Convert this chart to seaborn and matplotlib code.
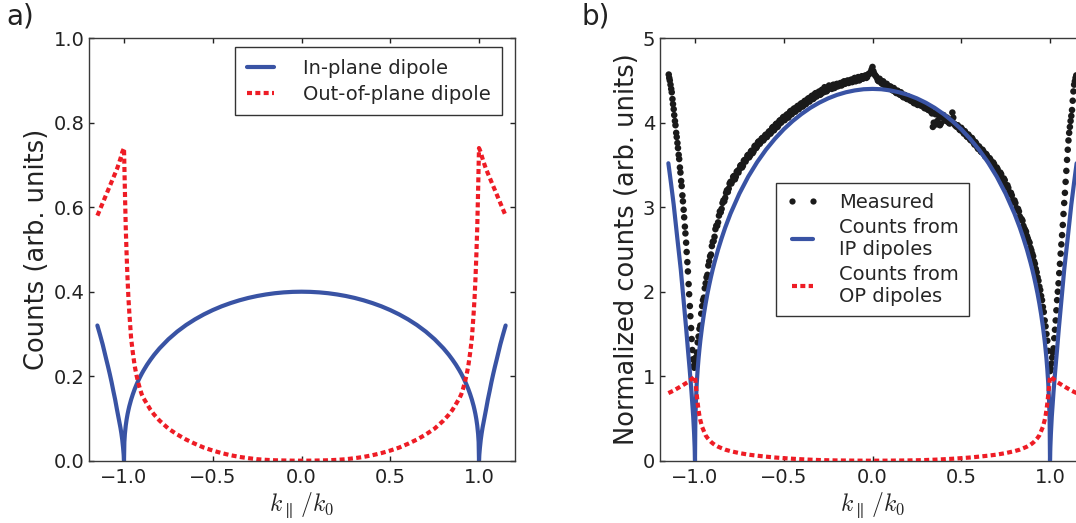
import matplotlib
matplotlib.use("Agg")
import matplotlib.pyplot as plt
import seaborn as sns
from matplotlib.lines import Line2D

# ---------------- data ----------------
k_curve = [-1.15, -1.135, -1.12, -1.10, -1.09, -1.08, -1.07, -1.06, -1.05, -1.04,
           -1.03, -1.02, -1.015, -1.01, -1.005, -1.002, -1.0,
           -0.998, -0.995, -0.99, -0.985, -0.98, -0.975, -0.97, -0.96, -0.95, -0.94,
           -0.93, -0.92, -0.91, -0.90, -0.89, -0.87, -0.85, -0.83, -0.80, -0.75,
           -0.70, -0.65, -0.60, -0.55, -0.50, -0.45, -0.40, -0.35, -0.30, -0.25,
           -0.20, -0.15, -0.10, -0.05,
           0.0,
           0.05, 0.10, 0.15, 0.20, 0.25, 0.30, 0.35, 0.40, 0.45, 0.50,
           0.55, 0.60, 0.65, 0.70, 0.75, 0.80, 0.83, 0.85, 0.87, 0.89,
           0.90, 0.91, 0.92, 0.93, 0.94, 0.95, 0.96, 0.97, 0.975, 0.98,
           0.985, 0.99, 0.995, 0.998,
           1.0, 1.002, 1.005, 1.01, 1.015, 1.02, 1.03, 1.04, 1.05, 1.06,
           1.07, 1.08, 1.09, 1.10, 1.12, 1.135, 1.15]

# panel a) in-plane dipole
ip_a = [0.32, 0.298, 0.275, 0.24, 0.223, 0.205, 0.186, 0.165, 0.145, 0.122,
        0.10, 0.078, 0.065, 0.05, 0.03, 0.015, 0.0,
        0.0440, 0.0634, 0.0837, 0.0982, 0.1100, 0.1200, 0.1290, 0.1444, 0.1575, 0.1692,
        0.1796, 0.1890, 0.1978, 0.2059, 0.2134, 0.2272, 0.2394, 0.2507, 0.2658, 0.2874,
        0.3056, 0.3212, 0.3346, 0.3463, 0.3565, 0.3654, 0.3730, 0.3796, 0.3852, 0.3898,
        0.3935, 0.3964, 0.3984, 0.3996,
        0.4000,
        0.3996, 0.3984, 0.3964, 0.3935, 0.3898, 0.3852, 0.3796, 0.3730, 0.3654, 0.3565,
        0.3463, 0.3346, 0.3212, 0.3056, 0.2874, 0.2658, 0.2507, 0.2394, 0.2272, 0.2134,
        0.2059, 0.1978, 0.1890, 0.1796, 0.1692, 0.1575, 0.1444, 0.1290, 0.1200, 0.1100,
        0.0982, 0.0837, 0.0634, 0.0440,
        0.0, 0.015, 0.03, 0.05, 0.065, 0.078, 0.10, 0.122, 0.145, 0.165,
        0.186, 0.205, 0.223, 0.24, 0.275, 0.298, 0.32]

# panel a) out-of-plane dipole
op_a = [0.58, 0.595, 0.61, 0.63, 0.64, 0.65, 0.66, 0.67, 0.68, 0.69,
        0.702, 0.715, 0.722, 0.73, 0.735, 0.738, 0.74,
        0.70, 0.64, 0.55, 0.485, 0.43, 0.385, 0.35, 0.29, 0.255, 0.225,
        0.203, 0.185, 0.17, 0.157, 0.148, 0.134, 0.12, 0.109, 0.095, 0.076,
        0.062, 0.05, 0.04, 0.031, 0.024, 0.018, 0.013, 0.009, 0.006, 0.0035,
        0.002, 0.001, 0.0005, 0.0001,
        0.0,
        0.0001, 0.0005, 0.001, 0.002, 0.0035, 0.006, 0.009, 0.013, 0.018, 0.024,
        0.031, 0.04, 0.05, 0.062, 0.076, 0.095, 0.109, 0.12, 0.134, 0.148,
        0.157, 0.17, 0.185, 0.203, 0.225, 0.255, 0.29, 0.35, 0.385, 0.43,
        0.485, 0.55, 0.64, 0.70,
        0.74, 0.738, 0.735, 0.73, 0.722, 0.715, 0.702, 0.69, 0.68, 0.67,
        0.66, 0.65, 0.64, 0.63, 0.61, 0.595, 0.58]

# panel b) counts from IP dipoles
ip_b = [3.52, 3.28, 3.03, 2.64, 2.45, 2.26, 2.03, 1.80, 1.57, 1.32,
        1.08, 0.82, 0.67, 0.52, 0.32, 0.16, 0.0,
        0.484, 0.697, 0.921, 1.080, 1.210, 1.320, 1.419, 1.588, 1.733, 1.861,
        1.976, 2.079, 2.176, 2.265, 2.347, 2.499, 2.633, 2.758, 2.924, 3.161,
        3.362, 3.533, 3.681, 3.809, 3.922, 4.019, 4.103, 4.176, 4.237, 4.288,
        4.329, 4.360, 4.382, 4.396,
        4.400,
        4.396, 4.382, 4.360, 4.329, 4.288, 4.237, 4.176, 4.103, 4.019, 3.922,
        3.809, 3.681, 3.533, 3.362, 3.161, 2.924, 2.758, 2.633, 2.499, 2.347,
        2.265, 2.176, 2.079, 1.976, 1.861, 1.733, 1.588, 1.419, 1.320, 1.210,
        1.080, 0.921, 0.697, 0.484,
        0.0, 0.16, 0.32, 0.52, 0.67, 0.82, 1.08, 1.32, 1.57, 1.80,
        2.03, 2.26, 2.45, 2.64, 3.03, 3.28, 3.52]

# panel b) counts from OP dipoles
op_b = [0.80, 0.815, 0.83, 0.855, 0.867, 0.88, 0.892, 0.905, 0.918, 0.93,
        0.948, 0.965, 0.972, 0.98, 0.99, 0.997, 1.0,
        0.95, 0.88, 0.78, 0.68, 0.60, 0.53, 0.48, 0.40, 0.35, 0.30,
        0.27, 0.245, 0.223, 0.205, 0.19, 0.166, 0.148, 0.131, 0.113, 0.09,
        0.072, 0.059, 0.048, 0.038, 0.03, 0.023, 0.017, 0.012, 0.008, 0.005,
        0.003, 0.002, 0.001, 0.0002,
        0.0,
        0.0002, 0.001, 0.002, 0.003, 0.005, 0.008, 0.012, 0.017, 0.023, 0.03,
        0.038, 0.048, 0.059, 0.072, 0.09, 0.113, 0.131, 0.148, 0.166, 0.19,
        0.205, 0.223, 0.245, 0.27, 0.30, 0.35, 0.40, 0.48, 0.53, 0.60,
        0.68, 0.78, 0.88, 0.95,
        1.0, 0.997, 0.99, 0.98, 0.972, 0.965, 0.948, 0.93, 0.918, 0.905,
        0.892, 0.88, 0.867, 0.855, 0.83, 0.815, 0.80]

# panel b) measured points
meas_k_left = [-1.148, -1.145, -1.142, -1.138, -1.134, -1.131, -1.127, -1.124, -1.120, -1.117,
               -1.113, -1.110, -1.106, -1.103, -1.099, -1.096, -1.092, -1.089, -1.085, -1.082,
               -1.078, -1.075, -1.071, -1.068, -1.064, -1.061, -1.057, -1.054, -1.050, -1.047,
               -1.043, -1.040, -1.036, -1.033, -1.029, -1.026, -1.022, -1.019, -1.015, -1.012,
               -1.008, -1.004, -1.000, -0.996]
meas_v_left = [4.57, 4.53, 4.50, 4.45, 4.40, 4.36, 4.28, 4.22, 4.16, 4.09,
               4.02, 3.97, 3.88, 3.83, 3.76, 3.70, 3.62, 3.57, 3.47, 3.41,
               3.31, 3.25, 3.14, 3.07, 2.97, 2.88, 2.77, 2.69, 2.58, 2.47,
               2.35, 2.24, 2.09, 1.97, 1.83, 1.71, 1.57, 1.44, 1.31, 1.20,
               1.12, 1.10, 1.16, 1.22]

meas_k_mid = [-0.99, -0.98, -0.97, -0.96, -0.95, -0.94, -0.93, -0.92, -0.91, -0.90,
              -0.89, -0.88, -0.87, -0.86, -0.85, -0.84, -0.83, -0.82, -0.81, -0.80,
              -0.79, -0.78, -0.77, -0.76, -0.75, -0.74, -0.73, -0.72, -0.71, -0.70,
              -0.69, -0.68, -0.67, -0.66, -0.65, -0.64, -0.63, -0.62, -0.61, -0.60,
              -0.59, -0.58, -0.57, -0.56, -0.55, -0.54, -0.53, -0.52, -0.51, -0.50,
              -0.49, -0.48, -0.47, -0.46, -0.45, -0.44, -0.43, -0.42, -0.41, -0.40,
              -0.39, -0.38, -0.37, -0.36, -0.35, -0.34, -0.33, -0.32, -0.31, -0.30,
              -0.29, -0.28, -0.27, -0.26, -0.25, -0.24, -0.23, -0.22, -0.21, -0.20,
              -0.19, -0.18, -0.17, -0.16, -0.15, -0.14, -0.13, -0.12, -0.11, -0.10,
              -0.09, -0.08, -0.07, -0.06, -0.05, -0.04, -0.03, -0.02, -0.01, 0.00,
              0.01, 0.02, 0.03, 0.04, 0.05, 0.06, 0.07, 0.08, 0.09, 0.10,
              0.11, 0.12, 0.13, 0.14, 0.15, 0.16, 0.17, 0.18, 0.19, 0.20,
              0.21, 0.22, 0.23, 0.24, 0.25, 0.26, 0.27, 0.28, 0.29, 0.30,
              0.31, 0.32, 0.33, 0.34, 0.35, 0.36, 0.37, 0.38, 0.39, 0.40,
              0.41, 0.42, 0.43, 0.44, 0.45, 0.46, 0.47, 0.48, 0.49, 0.50,
              0.51, 0.52, 0.53, 0.54, 0.55, 0.56, 0.57, 0.58, 0.59, 0.60,
              0.61, 0.62, 0.63, 0.64, 0.65, 0.66, 0.67, 0.68, 0.69, 0.70,
              0.71, 0.72, 0.73, 0.74, 0.75, 0.76, 0.77, 0.78, 0.79, 0.80,
              0.81, 0.82, 0.83, 0.84, 0.85, 0.86, 0.87, 0.88, 0.89, 0.90,
              0.91, 0.92, 0.93, 0.94, 0.95, 0.96, 0.97, 0.98, 0.99]
meas_v_mid = [1.28, 1.47, 1.60, 1.83, 1.93, 2.10, 2.20, 2.36, 2.44, 2.59,
              2.65, 2.78, 2.82, 2.95, 2.98, 3.08, 3.11, 3.20, 3.22, 3.30,
              3.31, 3.37, 3.36, 3.43, 3.45, 3.50, 3.49, 3.56, 3.57, 3.62,
              3.61, 3.67, 3.66, 3.73, 3.72, 3.78, 3.77, 3.82, 3.81, 3.86,
              3.85, 3.90, 3.89, 3.95, 3.93, 3.99, 3.97, 4.03, 4.02, 4.07,
              4.05, 4.10, 4.08, 4.14, 4.12, 4.17, 4.15, 4.20, 4.18, 4.23,
              4.20, 4.26, 4.24, 4.29, 4.27, 4.32, 4.29, 4.35, 4.33, 4.37,
              4.34, 4.38, 4.42, 4.37, 4.41, 4.43, 4.40, 4.45, 4.42, 4.46,
              4.44, 4.47, 4.45, 4.49, 4.47, 4.50, 4.48, 4.51, 4.49, 4.53,
              4.50, 4.54, 4.51, 4.55, 4.53, 4.56, 4.54, 4.58, 4.60, 4.66,
              4.58, 4.55, 4.50, 4.52, 4.47, 4.49, 4.44, 4.46, 4.41, 4.43,
              4.39, 4.41, 4.36, 4.38, 4.34, 4.36, 4.31, 4.33, 4.29, 4.31,
              4.27, 4.29, 4.24, 4.27, 4.22, 4.25, 4.21, 4.23, 4.18, 4.21,
              4.16, 4.18, 4.13, 3.95, 4.12, 3.98, 4.10, 3.97, 4.07, 4.09,
              4.03, 4.06, 4.00, 4.03, 4.12, 3.99, 3.96, 3.97, 3.92, 3.94,
              3.89, 3.90, 3.84, 3.86, 3.80, 3.82, 3.76, 3.77, 3.71, 3.72,
              3.66, 3.68, 3.62, 3.63, 3.57, 3.58, 3.51, 3.53, 3.46, 3.47,
              3.40, 3.41, 3.33, 3.34, 3.26, 3.26, 3.18, 3.17, 3.08, 3.08,
              2.99, 2.98, 2.89, 2.86, 2.78, 2.73, 2.66, 2.60, 2.52, 2.45,
              2.36, 2.27, 2.17, 2.06, 1.95, 1.82, 1.66, 1.50, 1.30]

meas_k_mid2 = [-0.985, -0.975, -0.965, -0.955, -0.945, -0.935, -0.925, -0.915, -0.905, -0.895,
               -0.885, -0.875, -0.865, -0.855, -0.845, -0.835, -0.825, -0.815, -0.805, -0.795,
               -0.785, -0.775, -0.765, -0.755, -0.745, -0.735, -0.725, -0.715, -0.705, -0.695,
               -0.685, -0.675, -0.665, -0.655, -0.645, -0.635, -0.625, -0.615, -0.605, -0.595,
               -0.585, -0.575, -0.565, -0.555, -0.545, -0.535, -0.525, -0.515, -0.505, -0.495,
               -0.485, -0.475, -0.465, -0.455, -0.445, -0.435, -0.425, -0.415, -0.405, -0.395,
               -0.385, -0.375, -0.365, -0.355, -0.345, -0.335, -0.325, -0.315, -0.305, -0.295,
               -0.285, -0.275, -0.265, -0.255, -0.245, -0.235, -0.225, -0.215, -0.205, -0.195,
               -0.185, -0.175, -0.165, -0.155, -0.145, -0.135, -0.125, -0.115, -0.105, -0.095,
               -0.085, -0.075, -0.065, -0.055, -0.045, -0.035, -0.025, -0.015, -0.005,
               0.005, 0.015, 0.025, 0.035, 0.045, 0.055, 0.065, 0.075, 0.085, 0.095,
               0.105, 0.115, 0.125, 0.135, 0.145, 0.155, 0.165, 0.175, 0.185, 0.195,
               0.205, 0.215, 0.225, 0.235, 0.245, 0.255, 0.265, 0.275, 0.285, 0.295,
               0.305, 0.315, 0.325, 0.335, 0.345, 0.355, 0.365, 0.375, 0.385, 0.395,
               0.405, 0.415, 0.425, 0.435, 0.445, 0.455, 0.465, 0.475, 0.485, 0.495,
               0.505, 0.515, 0.525, 0.535, 0.545, 0.555, 0.565, 0.575, 0.585, 0.595,
               0.605, 0.615, 0.625, 0.635, 0.645, 0.655, 0.665, 0.675, 0.685, 0.695,
               0.705, 0.715, 0.725, 0.735, 0.745, 0.755, 0.765, 0.775, 0.785, 0.795,
               0.805, 0.815, 0.825, 0.835, 0.845, 0.855, 0.865, 0.875, 0.885, 0.895,
               0.905, 0.915, 0.925, 0.935, 0.945, 0.955, 0.965, 0.975, 0.985]
meas_v_mid2 = [1.40, 1.56, 1.74, 1.90, 2.04, 2.17, 2.31, 2.42, 2.54, 2.60,
               2.74, 2.78, 2.90, 2.94, 3.05, 3.07, 3.17, 3.18, 3.28, 3.28,
               3.36, 3.33, 3.42, 3.41, 3.49, 3.47, 3.55, 3.54, 3.61, 3.59,
               3.66, 3.64, 3.72, 3.70, 3.77, 3.75, 3.81, 3.79, 3.85, 3.83,
               3.89, 3.87, 3.94, 3.91, 3.98, 3.95, 4.02, 4.00, 4.06, 4.03,
               4.09, 4.06, 4.13, 4.10, 4.16, 4.13, 4.19, 4.16, 4.22, 4.19,
               4.25, 4.22, 4.28, 4.25, 4.31, 4.28, 4.34, 4.31, 4.36, 4.33,
               4.39, 4.36, 4.40, 4.38, 4.44, 4.41, 4.44, 4.41, 4.45, 4.43,
               4.46, 4.44, 4.48, 4.46, 4.49, 4.47, 4.50, 4.48, 4.52, 4.49,
               4.53, 4.50, 4.54, 4.52, 4.55, 4.53, 4.57, 4.58, 4.63,
               4.61, 4.56, 4.53, 4.49, 4.50, 4.46, 4.47, 4.43, 4.44, 4.40,
               4.42, 4.38, 4.39, 4.35, 4.37, 4.33, 4.34, 4.30, 4.32, 4.28,
               4.30, 4.26, 4.27, 4.23, 4.26, 4.21, 4.24, 4.20, 4.21, 4.17,
               4.19, 4.15, 4.16, 4.11, 4.00, 4.10, 4.02, 4.08, 3.99, 4.06,
               4.07, 4.02, 4.04, 3.99, 4.01, 4.06, 3.97, 3.95, 3.95, 3.91,
               3.92, 3.87, 3.88, 3.83, 3.84, 3.79, 3.80, 3.74, 3.75, 3.69,
               3.70, 3.65, 3.66, 3.60, 3.61, 3.55, 3.56, 3.50, 3.51, 3.44,
               3.45, 3.38, 3.39, 3.31, 3.32, 3.24, 3.23, 3.16, 3.14, 3.06,
               3.05, 2.97, 2.95, 2.86, 2.84, 2.75, 2.71, 2.63, 2.58, 2.49,
               2.42, 2.33, 2.23, 2.13, 2.02, 1.90, 1.76, 1.59, 1.42]

meas_k_right = [0.996, 1.000, 1.004, 1.008, 1.012, 1.016, 1.020, 1.024, 1.028, 1.032,
                1.036, 1.040, 1.044, 1.048, 1.052, 1.056, 1.060, 1.064, 1.068, 1.072,
                1.076, 1.080, 1.084, 1.088, 1.092, 1.096, 1.100, 1.104, 1.108, 1.112,
                1.116, 1.120, 1.124, 1.128, 1.132, 1.136, 1.140, 1.144, 1.148]
meas_v_right = [1.12, 1.06, 1.09, 1.15, 1.22, 1.28, 1.33, 1.45, 1.55, 1.66,
                1.78, 1.90, 2.00, 2.10, 2.22, 2.33, 2.45, 2.56, 2.67, 2.79,
                2.92, 3.05, 3.17, 3.30, 3.43, 3.56, 3.68, 3.79, 3.88, 3.95,
                4.02, 4.08, 4.15, 4.26, 4.37, 4.45, 4.49, 4.53, 4.56]

x_ticks = [-1.0, -0.5, 0.0, 0.5, 1.0]
y_ticks_a = [0.0, 0.2, 0.4, 0.6, 0.8, 1.0]
y_ticks_b = [0, 1, 2, 3, 4, 5]

# ---------------- style ----------------
sns.set_style("ticks")
plt.rcParams["font.family"] = ["DejaVu Sans"]
plt.rcParams["mathtext.fontset"] = "cm"
plt.rcParams["axes.edgecolor"] = "#3a3a3a"
plt.rcParams["axes.linewidth"] = 1.0

BLUE = "#3953a4"
RED = "#ee1c25"
DOT = "#1a1a1a"
TXT = "#222222"
DOTTED = (0, (1.2, 0.8))

fig = plt.figure(figsize=(10.76, 5.23), dpi=100)
ax1 = fig.add_axes([88.5 / 1076, 62.3 / 523, 426 / 1076, 422.5 / 523])
ax2 = fig.add_axes([659.5 / 1076, 62.3 / 523, 426 / 1076, 422.5 / 523])

# ---------------- panel a ----------------
sns.lineplot(x=k_curve, y=ip_a, ax=ax1, color=BLUE, lw=3, sort=False,
             estimator=None, label="In-plane dipole")
sns.lineplot(x=k_curve, y=op_a, ax=ax1, color=RED, lw=3, sort=False,
             estimator=None, linestyle=DOTTED, label="Out-of-plane dipole")

# ---------------- panel b ----------------
meas_k = meas_k_left + meas_k_mid + meas_k_mid2 + meas_k_right
meas_v = meas_v_left + meas_v_mid + meas_v_mid2 + meas_v_right
sns.scatterplot(x=meas_k, y=meas_v, ax=ax2, color=DOT, s=22, linewidth=0,
                edgecolor="none", zorder=2, legend=False)
sns.lineplot(x=k_curve, y=ip_b, ax=ax2, color=BLUE, lw=3, sort=False,
             estimator=None, zorder=3, legend=False)
sns.lineplot(x=k_curve, y=op_b, ax=ax2, color=RED, lw=3, sort=False,
             estimator=None, linestyle=DOTTED, zorder=4, legend=False)

for ax, yt in ((ax1, y_ticks_a), (ax2, y_ticks_b)):
    ax.set_xlim(-1.2, 1.2)
    ax.set_xticks(x_ticks)
    ax.set_yticks(yt)
    ax.set_ylim(yt[0], yt[-1])
    ax.tick_params(direction="in", top=True, right=True, length=3.3, width=1.0,
                   labelsize=14, labelcolor=TXT, color="#222222")
    ax.tick_params(axis="x", pad=5)
    ax.tick_params(axis="y", pad=3)
    for sp in ax.spines.values():
        sp.set_visible(True)
    ax.set_xlabel(r"$k_{\parallel}\,/k_0$", fontsize=17, color=TXT, labelpad=3)

ax1.set_ylabel("Counts (arb. units)", fontsize=18.5, color=TXT, labelpad=2.5)
ax2.set_ylabel("Normalized counts (arb. units)", fontsize=18.5, color=TXT, labelpad=2)

leg1 = ax1.legend(loc="upper right", bbox_to_anchor=(0.971, 0.979), borderaxespad=0,
                  fontsize=14, handlelength=1.42, handletextpad=1.46, borderpad=0.6,
                  labelspacing=0.35, fancybox=False, framealpha=1, edgecolor="#333333")
leg1.get_frame().set_linewidth(1.0)

h_meas = Line2D([], [], ls="none", marker="o", ms=4.5, color=DOT, mec="none")
h_ip = Line2D([], [], color=BLUE, lw=3)
h_op = Line2D([], [], color=RED, lw=3, linestyle=DOTTED)
leg2 = ax2.legend([h_meas, h_ip, h_op],
                  ["Measured", "Counts from\nIP dipoles", "Counts from\nOP dipoles"],
                  loc="center", bbox_to_anchor=(0.5, 0.5), borderaxespad=0,
                  fontsize=14, numpoints=2, handlelength=1.7, handletextpad=1.05,
                  borderpad=0.5, labelspacing=0.3, fancybox=False, framealpha=1,
                  edgecolor="#333333")
leg2.get_frame().set_linewidth(1.0)

fig.text(6 / 1076, 1 - 2 / 523, "a)", fontsize=20, color=TXT, ha="left", va="top")
fig.text(582 / 1076, 1 - 2 / 523, "b)", fontsize=20, color=TXT, ha="left", va="top")

fig.savefig("out.png", dpi=100)
